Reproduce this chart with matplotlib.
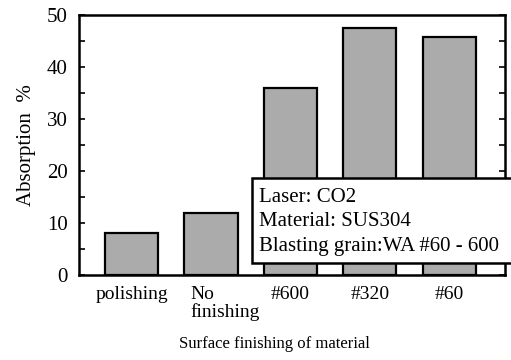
import matplotlib
matplotlib.use("Agg")
from matplotlib import pyplot as plt
from matplotlib.patches import Rectangle
from matplotlib.transforms import ScaledTranslation
import numpy as np

plt.rcParams['font.family'] = ['Liberation Serif', 'DejaVu Serif']

categories = ["polishing", "No\nfinishing", "#600", "#320", "#60"]
absorption = [8.1, 11.9, 36.0, 47.6, 45.7]
note_lines = ["Laser: CO2", "Material: SUS304", "Blasting grain:WA #60 - 600"]

fig = plt.figure(figsize=(5.11, 3.6), dpi=100)
ax = fig.add_axes([0.1546, 0.236, 0.8334, 0.722])

x = np.arange(len(categories))
ax.bar(x, absorption, width=0.67, color="#ababab", edgecolor="black", linewidth=1.6, zorder=2)

ax.set_xlim(-0.66, 4.7)
ax.set_ylim(0, 50)
ax.set_yticks([0, 10, 20, 30, 40, 50])
ax.set_yticks(np.arange(5, 50, 5), minor=True)
ax.tick_params(axis="y", which="both", direction="in", right=True, length=4, width=1.2,
               labelsize=15, pad=8)
ax.set_xticks(x)
ax.set_xticklabels(categories, fontsize=14, linespacing=1.0)
ax.tick_params(axis="x", length=0, pad=8)
lbl = ax.get_xticklabels()[1]
lbl.set_multialignment("left")
lbl.set_transform(lbl.get_transform() + ScaledTranslation(0.14, 0, fig.dpi_scale_trans))

for s in ax.spines.values():
    s.set_linewidth(1.8)

ax.set_ylabel("Absorption  %", fontsize=15, labelpad=8)
ax.set_xlabel("Surface finishing of material", fontsize=12)
ax.xaxis.set_label_coords(0.458, -0.235)

# note box, runs past the right edge like in the original
box = Rectangle((252 / 511, (360 - 263) / 360), 0.6, (263 - 178) / 360,
                transform=fig.transFigure, facecolor="white", edgecolor="black",
                linewidth=1.8, zorder=5, clip_on=False)
fig.add_artist(box)
for i, line in enumerate(note_lines):
    fig.text(259 / 511, (360 - 198 - i * 24) / 360, line, fontsize=15,
             va="center", ha="left", zorder=6)

fig.savefig("out.png", dpi=100)
